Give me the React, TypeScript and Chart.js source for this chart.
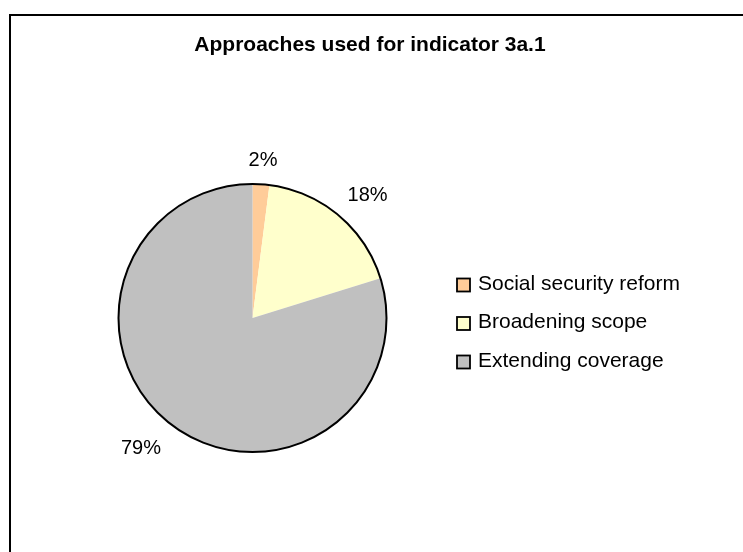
import React, { useEffect, useRef } from "react";
import { Chart, registerables } from "chart.js";

Chart.register(...registerables);

const chartTitle = "Approaches used for indicator 3a.1";
const categories = ["Social security reform", "Broadening scope", "Extending coverage"];
const values = [2, 18, 79];
const colors = ["#FFCC99", "#FFFFCC", "#C0C0C0"];

const FONT = "'Liberation Sans', Arial, sans-serif";

const decorPlugin = {
  id: "decor",
  afterDatasetsDraw(chart: any) {
    const ctx = chart.ctx;
    const meta = chart.getDatasetMeta(0);
    const arcs = meta.data;
    if (!arcs.length) return;
    const cx = arcs[0].x;
    const cy = arcs[0].y;
    const r = arcs[0].outerRadius;

    // outer circle outline
    ctx.save();
    ctx.beginPath();
    ctx.arc(cx, cy, r, 0, Math.PI * 2);
    ctx.lineWidth = 2;
    ctx.strokeStyle = "#000";
    ctx.stroke();
    ctx.restore();

    // percentage labels outside
    ctx.save();
    ctx.font = `20px ${FONT}`;
    ctx.fillStyle = "#000";
    ctx.textAlign = "center";
    ctx.textBaseline = "middle";
    const gap = 17;
    const h = 15;
    arcs.forEach((arc: any, i: number) => {
      const mid = (arc.startAngle + arc.endAngle) / 2;
      const ux = Math.cos(mid);
      const uy = Math.sin(mid);
      const m = Math.max(Math.abs(ux), Math.abs(uy));
      const txt = `${values[i]}%`;
      const w = ctx.measureText(txt).width;
      const fx = Math.abs(ux) > 0.5 ? Math.sign(ux) * 0.9 : ux / m;
      const px = cx + ux * (r + gap) + fx * (w / 2) + (ux < -0.5 ? -4 : 0);
      const py = cy + uy * (r + gap) + (uy / m) * (h / 2);
      ctx.fillText(txt, px, py + 1);
    });
    ctx.restore();

    // title
    ctx.save();
    ctx.font = `bold 21px ${FONT}`;
    ctx.fillStyle = "#000";
    ctx.textAlign = "center";
    ctx.textBaseline = "middle";
    ctx.fillText(chartTitle, 370, 45);
    ctx.restore();

    // legend
    ctx.save();
    ctx.font = `21px ${FONT}`;
    ctx.textAlign = "left";
    ctx.textBaseline = "middle";
    const lx = 457;
    const ly0 = 284;
    const step = 38.5;
    const box = 13;
    chart.data.labels.forEach((lab: string, i: number) => {
      const y = ly0 + i * step;
      ctx.fillStyle = chart.data.datasets[0].backgroundColor[i];
      ctx.fillRect(lx, y - box / 2 + 1, box, box);
      ctx.lineWidth = 1.8;
      ctx.strokeStyle = "#000";
      ctx.strokeRect(lx, y - box / 2 + 1, box, box);
      ctx.fillStyle = "#000";
      ctx.fillText(lab, lx + 21, y);
    });
    ctx.restore();
  },
};

export default function App() {
  const ref = useRef<HTMLCanvasElement | null>(null);
  useEffect(() => {
    if (!ref.current) return;
    const chart = new Chart(ref.current, {
      type: "pie",
      data: {
        labels: categories,
        datasets: [
          {
            data: values,
            backgroundColor: colors,
            borderWidth: 0,
          },
        ],
      },
      options: {
        responsive: false,
        animation: false,
        layout: { padding: { left: 118, right: 356, top: 184, bottom: 100 } },
        plugins: {
          legend: { display: false },
          title: { display: false },
          tooltip: { enabled: false },
        },
      },
      plugins: [decorPlugin],
    });
    return () => chart.destroy();
  }, []);

  return (
    <div
      style={{
        position: "fixed",
        left: 0,
        top: 0,
        width: 743,
        height: 552,
        overflow: "hidden",
        background: "#fff",
      }}
    >
      <div
        style={{
          position: "absolute",
          left: 9,
          top: 14,
          width: 900,
          height: 700,
          border: "2px solid #000",
          boxSizing: "border-box",
        }}
      />
      <canvas
        ref={ref}
        width={743}
        height={552}
        style={{ position: "absolute", left: 0, top: 0, width: 743, height: 552 }}
      />
    </div>
  );
}
